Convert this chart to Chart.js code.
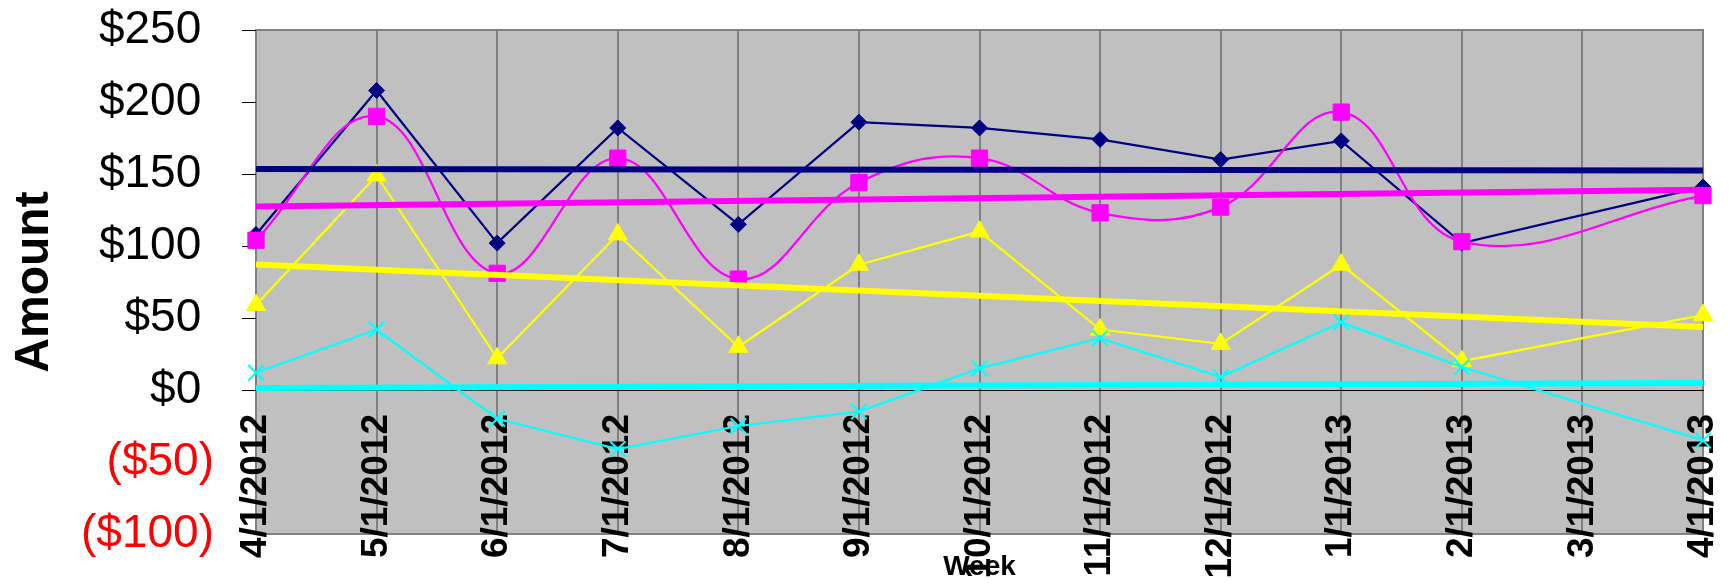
<!DOCTYPE html>
<html>
<head>
<meta charset="utf-8">
<script src="https://cdn.jsdelivr.net/npm/chart.js@4.4.1/dist/chart.umd.min.js"></script>
<style>
  html, body { margin: 0; padding: 0; background: #ffffff; }
  #wrap { width: 1732px; height: 584px; position: relative; }
</style>
</head>
<body>
<div id="wrap"><canvas id="chart"></canvas></div>
<script>
// Monthly categories on the x axis
const weeks = ['4/1/2012', '5/1/2012', '6/1/2012', '7/1/2012', '8/1/2012', '9/1/2012',
               '10/1/2012', '11/1/2012', '12/1/2012', '1/1/2013', '2/1/2013', '3/1/2013', '4/1/2013'];

// Amount axis ticks
const amountTicks = [-100, -50, 0, 50, 100, 150, 200, 250];

// Series values (3/1/2013 has no entry)
const navyValues    = [108, 208, 102, 182, 115, 186, 182, 174, 160, 173, 102, null, 141];
const magentaValues = [104, 190, 81, 161, 77, 144, 161, 123, 127, 193, 103, null, 135];
const yellowValues  = [59, 149, 22, 108, 30, 87, 110, 42, 32, 87, 20, null, 52];
const cyanValues    = [12, 42, -20, -41, -25, -15, 15, 36, 9, 47, 16, null, -35];

// Linear trend lines, first and last category
const navyTrend    = [153.4, null, null, null, null, null, null, null, null, null, null, null, 152.4];
const magentaTrend = [127.4, null, null, null, null, null, null, null, null, null, null, null, 139.0];
const yellowTrend  = [87.2, null, null, null, null, null, null, null, null, null, null, null, 43.7];
const cyanTrend    = [1.4, null, null, null, null, null, null, null, null, null, null, null, 4.9];

const FONT = "'Liberation Sans', Arial, sans-serif";
const NAVY = '#000080', MAGENTA = '#FF00FF', YELLOW = '#FFFF00', CYAN = '#00FFFF';

// Grey plot background with its frame; the value axis line is black down to zero
const plotFrame = {
  id: 'plotFrame',
  beforeDraw(chart) {
    const { ctx, chartArea: a, scales: { y } } = chart;
    ctx.save();
    ctx.fillStyle = '#C0C0C0';
    ctx.fillRect(a.left, a.top, a.right - a.left, a.bottom - a.top);
    ctx.strokeStyle = '#808080';
    ctx.lineWidth = 2;
    ctx.strokeRect(a.left, a.top, a.right - a.left, a.bottom - a.top);
    ctx.strokeStyle = '#000000';
    ctx.lineWidth = 1.5;
    ctx.beginPath();
    ctx.moveTo(a.left, y.getPixelForValue(amountTicks[amountTicks.length - 1]));
    ctx.lineTo(a.left, y.getPixelForValue(0));
    ctx.stroke();
    ctx.restore();
  }
};

function seriesLine(label, values, color, style, radius, order, extra) {
  return Object.assign({
    label, data: values, order,
    borderColor: color, borderWidth: 2.25,
    pointStyle: style, pointRadius: radius, pointHoverRadius: radius,
    pointBackgroundColor: color, pointBorderColor: color, pointBorderWidth: 1,
    tension: 0, spanGaps: true, fill: false
  }, extra || {});
}

function trendLine(label, values, color, order) {
  return {
    label, data: values, order,
    borderColor: color, borderWidth: 6,
    pointRadius: 0, pointHoverRadius: 0,
    tension: 0, spanGaps: true, fill: false
  };
}

// Currency format: negatives in parentheses, positives keep room for the closing bracket
function formatAmount(v) {
  return v < 0 ? '($' + (-v) + ')' : '$' + v + ' ';
}

new Chart(document.getElementById('chart'), {
  type: 'line',
  data: {
    labels: weeks,
    datasets: [
      seriesLine('Series 1', navyValues, NAVY, 'rectRot', 8, 8),
      seriesLine('Series 2', magentaValues, MAGENTA, 'rect', 11.5, 7, { tension: 0.4 }),
      seriesLine('Series 3', yellowValues, YELLOW, 'triangle', 11, 6),
      seriesLine('Series 4', cyanValues, CYAN, 'crossRot', 11, 5, { pointBorderWidth: 2 }),
      trendLine('Trend 1', navyTrend, NAVY, 4),
      trendLine('Trend 2', magentaTrend, MAGENTA, 3),
      trendLine('Trend 3', yellowTrend, YELLOW, 2),
      trendLine('Trend 4', cyanTrend, CYAN, 1)
    ]
  },
  options: {
    responsive: true,
    maintainAspectRatio: false,
    animation: false,
    devicePixelRatio: 1,
    events: [],
    layout: { autoPadding: false, padding: { left: 0, top: 30, right: 29, bottom: 0 } },
    plugins: {
      legend: { display: false },
      tooltip: { enabled: false },
      title: {
        display: true, text: 'Week', position: 'bottom', fullSize: false, align: 'center',
        color: '#000000',
        font: { family: FONT, size: 28, weight: 'bold', lineHeight: 1 },
        padding: { top: 19, bottom: 3 }
      }
    },
    scales: {
      x: {
        type: 'category',
        position: { y: 0 },
        offset: false,
        afterFit(scale) { scale.paddingLeft = 0; scale.paddingRight = 0; },
        border: { display: true, color: '#000000', width: 1 },
        grid: { color: '#808080', lineWidth: 2, drawTicks: false },
        ticks: {
          autoSkip: false, maxRotation: 90, minRotation: 90, padding: 24,
          color: '#000000',
          font: { family: FONT, size: 37, weight: 'bold', lineHeight: 1.2 }
        }
      },
      y: {
        position: 'left',
        min: amountTicks[0],
        max: amountTicks[amountTicks.length - 1],
        afterBuildTicks(scale) { scale.ticks = amountTicks.map(v => ({ value: v })); },
        afterFit(scale) { scale.width = 256; scale.paddingTop = 0; scale.paddingBottom = 0; },
        border: { display: false },
        grid: {
          drawOnChartArea: false, drawTicks: true, tickLength: 14, tickWidth: 1,
          tickColor: c => (c.tick && c.tick.value >= 0) ? '#000000' : 'rgba(0,0,0,0)'
        },
        ticks: {
          padding: 28,
          color: c => (c.tick && c.tick.value < 0) ? '#FF0000' : '#000000',
          font: { family: FONT, size: 46, lineHeight: 1.2 },
          callback: v => formatAmount(v)
        },
        title: {
          display: true, text: 'Amount', color: '#000000',
          font: { family: FONT, size: 48, weight: 'bold', lineHeight: 1 },
          padding: { top: 11, bottom: 0 }
        }
      }
    }
  },
  plugins: [plotFrame]
});
</script>
</body>
</html>
